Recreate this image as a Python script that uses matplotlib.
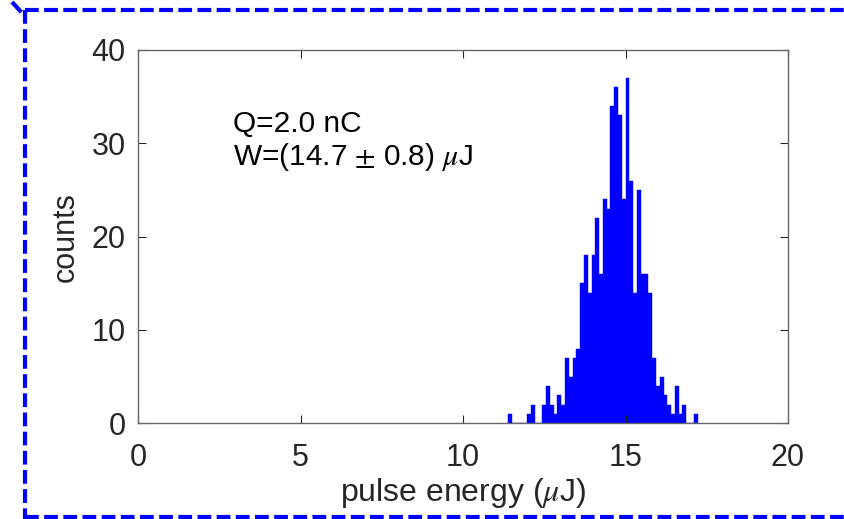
import numpy as np
import matplotlib
matplotlib.use("Agg")
import matplotlib.pyplot as plt
from matplotlib.lines import Line2D

# ---- data ----
bin_start = 11.39      # left edge of first bin (uJ)
bin_width = 0.1166     # bin width (uJ)
counts = [1, 0, 0, 0, 0, 1, 2, 0, 0, 2,
          4, 2, 1, 3, 2, 7, 5, 7, 8, 15,
          18, 14, 18, 22, 16, 24, 23, 34, 36, 33,
          24, 37, 26, 14, 25, 16, 16, 14, 7, 4,
          5, 3, 2, 1, 4, 1, 2, 0, 0, 1]
x_ticks = [0, 5, 10, 15, 20]
y_ticks = [0, 10, 20, 30, 40]
annot_q = "Q=2.0 nC"
annot_w = r"W=(14.7$\,\pm\,$0.8) $\mu$J"

plt.rcParams['font.family'] = ['Liberation Sans', 'DejaVu Sans']
plt.rcParams['mathtext.fontset'] = 'stix'

W, H = 844, 519
fig = plt.figure(figsize=(W / 100, H / 100), dpi=100)
fig.patch.set_facecolor('white')

left, right, top, bottom = 138, 788, 50, 423.3
ax = fig.add_axes([left / W, 1 - bottom / H, (right - left) / W, (bottom - top) / H])

n = len(counts)
centers = bin_start + bin_width * (np.arange(n) + 0.5)
ax.bar(centers, counts, width=bin_width, color='#0000ff', edgecolor='#0000ff',
       linewidth=0.3, align='center')

ax.set_xlim(0, 20)
ax.set_ylim(0, 40)
ax.set_xticks(x_ticks)
ax.set_yticks(y_ticks)
tc = '#262626'
ax.tick_params(direction='in', length=6, width=0.8, colors=tc, labelsize=22,
               top=True, right=True)
ax.tick_params(axis='x', pad=14)
ax.tick_params(axis='y', pad=9)
for s in ax.spines.values():
    s.set_color('#666666')
    s.set_linewidth(1.0)

ax.set_xlabel(r"pulse energy ($\mu$J)", fontsize=23, color=tc, labelpad=2)
ax.set_ylabel("counts", fontsize=22, color=tc, labelpad=8)

ax.text(0.146, 0.781, annot_q, transform=ax.transAxes, fontsize=21.5,
        color='black', va='baseline', ha='left')
ax.text(0.146, 0.692, annot_w, transform=ax.transAxes, fontsize=21.5,
        color='black', va='baseline', ha='left')

# dashed blue frame around figure
def fx(px):
    return px / W

def fy(py):
    return 1 - py / H

kw = dict(color='#0000ff', linewidth=3.0, linestyle=(0, (3.3, 1.3)),
          transform=fig.transFigure, solid_capstyle='butt', dash_capstyle='butt')
fig.add_artist(Line2D([fx(25), fx(844)], [fy(10), fy(10)], **kw))
fig.add_artist(Line2D([fx(25), fx(25)], [fy(10), fy(519)], **kw))
fig.add_artist(Line2D([fx(25), fx(844)], [fy(516.5), fy(516.5)], **kw))
fig.add_artist(Line2D([fx(12), fx(23)], [fy(2), fy(14)], **kw))

fig.savefig("out.png", dpi=100)
